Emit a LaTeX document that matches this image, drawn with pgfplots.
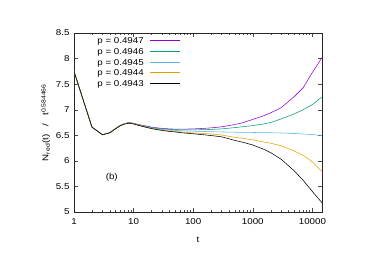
\documentclass[border=0pt]{standalone}
\usepackage{pgfplots}
\pgfplotsset{compat=1.18}
\usepackage{fontspec}
\setmainfont{Liberation Sans}[FakeStretch=1.15]
\definecolor{gpA}{HTML}{9400D3}
\definecolor{gpB}{HTML}{009E73}
\definecolor{gpC}{HTML}{56B4E9}
\definecolor{gpD}{HTML}{E69F00}
\definecolor{gpE}{HTML}{000000}
\tikzset{legtxt/.style={anchor=base east, inner sep=0pt, yshift=-3bp}}
\begin{document}
\begin{tikzpicture}[font=\fontsize{8.5}{10}\selectfont]
\path[use as bounding box] (0,0) rectangle (374bp,265bp);
\begin{axis}[
  at={(74bp,53bp)}, anchor=south west,
  scale only axis, width=248bp, height=179bp,
  xmode=log, xmin=1, xmax=14500, ymin=5, ymax=8.5,
  xtick={1,10,100,1000,10000}, xticklabels={1,10,100,1000,10000},
  ytick={5,5.5,6,6.5,7,7.5,8,8.5},
  yticklabel style={/pgf/number format/fixed},
  /pgf/number format/assume math mode=true,
  tick label style={font=\fontsize{8.5}{10}\selectfont},
  label style={font=\fontsize{8.5}{10}\selectfont},
  xticklabel style={yshift=-3bp},
  yticklabel style={xshift=-1bp},
  tick align=inside, major tick length=4bp, minor tick length=2bp,
  axis line style={black!85, line width=0.6pt},
  every tick/.style={black!70, line width=0.4pt},
  xlabel={t}, ylabel={N\textsubscript{red}(t) ~~/~~ t\textsuperscript{0.584466}},
  xlabel style={yshift=-6bp},
  ylabel style={yshift=-1bp},
  every axis plot/.append style={line width=0.55pt},
]
\addplot[color=gpA] coordinates {(1,7.75)(2,6.66)(3,6.51)(4,6.555)(5,6.635)(6,6.695)(7,6.725)(8,6.745)(9,6.745)(10,6.735)(12,6.71)(15,6.69)(20,6.66)(25,6.645)(30,6.635)(40,6.625)(50,6.62)(70,6.62)(100,6.625)(150,6.635)(200,6.645)(300,6.665)(500,6.71)(700,6.75)(1000,6.81)(1500,6.88)(2000,6.94)(3000,7.04)(5000,7.26)(7000,7.43)(10000,7.73)(14500,8.02)};
\addplot[color=gpB] coordinates {(1,7.75)(2,6.66)(3,6.51)(4,6.553)(5,6.633)(6,6.693)(7,6.723)(8,6.74)(9,6.74)(10,6.73)(12,6.705)(15,6.68)(20,6.65)(25,6.635)(30,6.625)(40,6.615)(50,6.61)(70,6.605)(100,6.605)(150,6.61)(200,6.615)(300,6.625)(500,6.65)(700,6.67)(1000,6.69)(1500,6.72)(2000,6.75)(3000,6.82)(5000,6.92)(7000,7.0)(10000,7.10)(14500,7.25)};
\addplot[color=gpC] coordinates {(1,7.75)(2,6.66)(3,6.51)(4,6.551)(5,6.631)(6,6.691)(7,6.721)(8,6.737)(9,6.737)(10,6.727)(12,6.70)(15,6.675)(20,6.645)(25,6.625)(30,6.61)(40,6.60)(50,6.595)(70,6.585)(100,6.58)(150,6.575)(200,6.57)(300,6.565)(500,6.56)(700,6.555)(1000,6.555)(2000,6.55)(3000,6.545)(5000,6.535)(7000,6.525)(10000,6.515)(14500,6.495)};
\addplot[color=gpD] coordinates {(1,7.75)(2,6.66)(3,6.51)(4,6.55)(5,6.63)(6,6.69)(7,6.72)(8,6.735)(9,6.735)(10,6.725)(12,6.70)(15,6.67)(20,6.635)(25,6.615)(30,6.60)(40,6.585)(50,6.575)(70,6.56)(100,6.545)(150,6.535)(200,6.525)(300,6.505)(500,6.46)(700,6.44)(1000,6.41)(1500,6.37)(2000,6.345)(3000,6.295)(5000,6.19)(7000,6.11)(10000,5.98)(14500,5.79)};
\addplot[color=gpE] coordinates {(1,7.75)(2,6.66)(3,6.51)(4,6.548)(5,6.628)(6,6.688)(7,6.718)(8,6.732)(9,6.732)(10,6.72)(12,6.695)(15,6.665)(20,6.63)(25,6.61)(30,6.595)(40,6.575)(50,6.565)(70,6.545)(100,6.53)(150,6.51)(200,6.495)(300,6.47)(500,6.40)(700,6.36)(1000,6.31)(1500,6.23)(2000,6.16)(3000,6.03)(5000,5.80)(7000,5.62)(10000,5.40)(14500,5.18)};
% legend (gnuplot style: text right aligned, sample line to the right)
\node[legtxt] at (rel axis cs:0.282,0.958) {p = 0.4947};
\draw[color=gpA, line width=0.55pt] (rel axis cs:0.306,0.958) -- (rel axis cs:0.427,0.958);
\node[legtxt] at (rel axis cs:0.282,0.898) {p = 0.4946};
\draw[color=gpB, line width=0.55pt] (rel axis cs:0.306,0.898) -- (rel axis cs:0.427,0.898);
\node[legtxt] at (rel axis cs:0.282,0.838) {p = 0.4945};
\draw[color=gpC, line width=0.55pt] (rel axis cs:0.306,0.838) -- (rel axis cs:0.427,0.838);
\node[legtxt] at (rel axis cs:0.282,0.778) {p = 0.4944};
\draw[color=gpD, line width=0.55pt] (rel axis cs:0.306,0.778) -- (rel axis cs:0.427,0.778);
\node[legtxt] at (rel axis cs:0.282,0.718) {p = 0.4943};
\draw[color=gpE, line width=0.55pt] (rel axis cs:0.306,0.718) -- (rel axis cs:0.427,0.718);
\node at (axis cs:4.3,5.68) {(b)};
\end{axis}
\end{tikzpicture}
\end{document}
